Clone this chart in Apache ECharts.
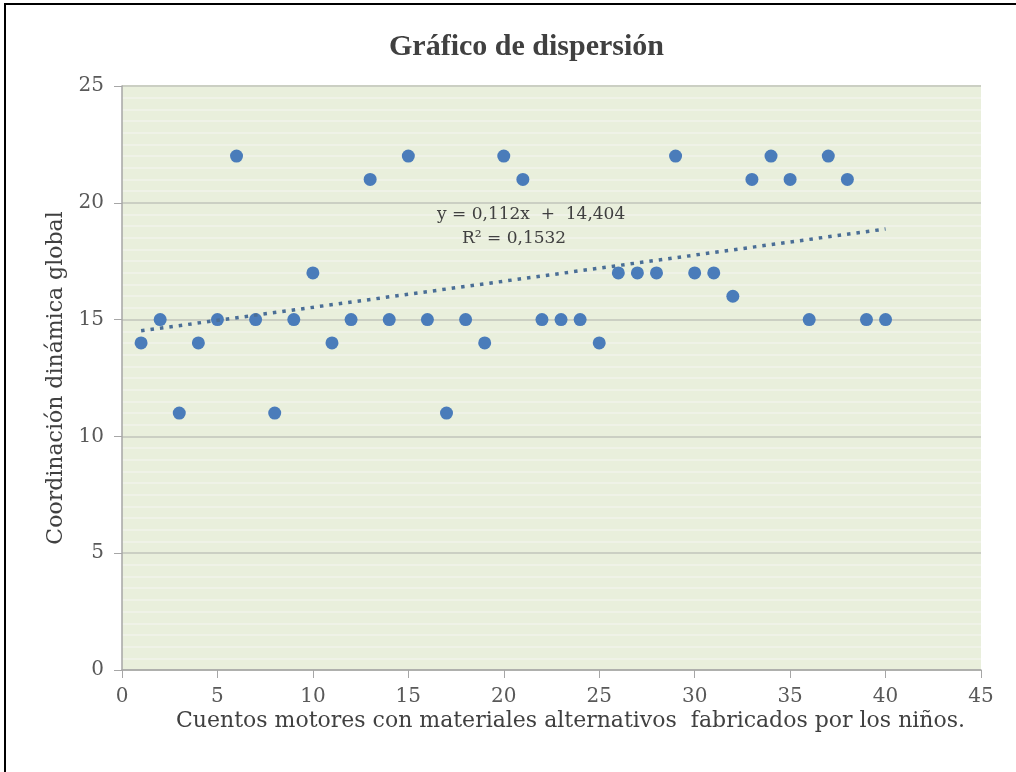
<!DOCTYPE html>
<html>
<head>
<meta charset="utf-8">
<script src="https://cdn.jsdelivr.net/npm/echarts@6/dist/echarts.min.js"></script>
<style>
  html, body { margin: 0; padding: 0; background: #fff; }
  #chart { width: 1016px; height: 772px; }
</style>
</head>
<body>
<div id="chart"></div>
<script>
// cuentos motores (x) vs coordinación dinámica global (y)
const xValues = [1, 2, 3, 4, 5, 6, 7, 8, 9, 10, 11, 12, 13, 14, 15, 16, 17, 18, 19, 20,
  21, 22, 23, 24, 25, 26, 27, 28, 29, 30, 31, 32, 33, 34, 35, 36, 37, 38, 39, 40];
const yValues = [14, 15, 11, 14, 15, 22, 15, 11, 15, 17, 14, 15, 21, 15, 22, 15, 11, 15, 14, 22,
  21, 15, 15, 15, 14, 17, 17, 17, 22, 17, 17, 16, 21, 22, 21, 15, 22, 21, 15, 15];
// linear trendline ends
const trendX = [1, 40];
const trendY = [14.52, 18.88];
const equationText = "y = 0,112x  +  14,404";
const r2Text = "R² = 0,1532";

const points = xValues.map((x, i) => [x, yValues[i]]);
const trend = trendX.map((x, i) => [x, trendY[i]]);

const serif = "'DejaVu Serif', serif";
const chart = echarts.init(document.getElementById("chart"));

chart.setOption({
  backgroundColor: "#fff",
  animation: false,
  title: {
    text: "Gráfico de dispersión",
    left: 384,
    top: 27,
    textStyle: {fontFamily: "'Liberation Serif', serif", fontWeight: "bold", fontSize: 30, color: "#404040"}
  },
  grid: {left: 122, right: 35, top: 86, bottom: 102, show: true, backgroundColor: "#E9EFDC", borderWidth: 0},
  xAxis: {
    type: "value",
    min: 0, max: 45, interval: 5,
    axisLine: {show: true, lineStyle: {color: "#A6A6A6", width: 1.5}},
    axisTick: {show: true, length: 8, lineStyle: {color: "#A6A6A6"}},
    axisLabel: {margin: 17, fontFamily: serif, fontSize: 20, color: "#595959"},
    splitLine: {show: false}
  },
  yAxis: {
    type: "value",
    min: 0, max: 25, interval: 5,
    name: "Coordinación dinámica global",
    nameLocation: "middle",
    nameGap: 54,
    nameTextStyle: {fontFamily: serif, fontSize: 22, color: "#404040"},
    axisLine: {show: true, lineStyle: {color: "#A6A6A6", width: 1.5}},
    axisTick: {show: true, length: 8, lineStyle: {color: "#A6A6A6"}},
    axisLabel: {margin: 18, fontFamily: serif, fontSize: 20, color: "#595959"},
    splitLine: {show: true, lineStyle: {color: "#CBCFC3", width: 2}},
    minorTick: {show: false, splitNumber: 10},
    minorSplitLine: {show: true, lineStyle: {color: "#F1F4EA", width: 1.5}}
  },
  series: [
    {
      type: "scatter",
      data: points,
      symbolSize: 13,
      itemStyle: {color: "#4A7CBA", opacity: 1},
      z: 3
    },
    {
      type: "line",
      data: trend,
      symbol: "none",
      lineStyle: {color: "#4A6E96", width: 3.5, type: [3.5, 6], cap: "butt"},
      z: 4
    }
  ],
  graphic: [
    {type: "rect", z: 100, shape: {x: 5, y: 4, width: 1100, height: 900}, style: {fill: "none", stroke: "#000", lineWidth: 2}, silent: true},
    {type: "text", z: 100, left: 437, top: 206, style: {text: equationText, font: "17px " + serif, fill: "#404040"}},
    {type: "text", z: 100, left: 462, top: 230, style: {text: r2Text, font: "17px " + serif, fill: "#404040"}},
    {type: "text", z: 100, left: 176, top: 710, style: {text: "Cuentos motores con materiales alternativos  fabricados por los niños.", font: "22px " + serif, fill: "#404040"}}
  ]
});
</script>
</body>
</html>
